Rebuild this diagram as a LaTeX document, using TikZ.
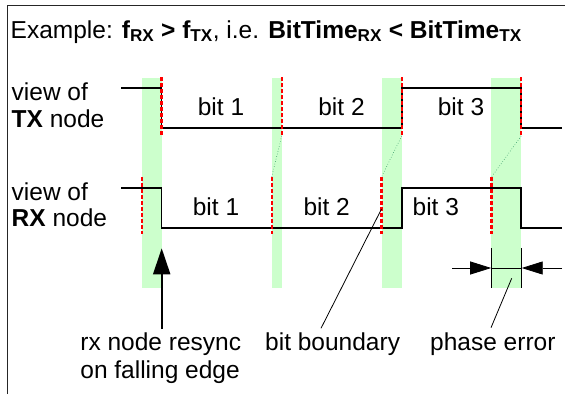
\documentclass[tikz,border=0pt]{standalone}
\usepackage{fontspec}
\setmainfont{Liberation Sans}
\usetikzlibrary{arrows.meta}
\definecolor{bandgreen}{HTML}{CCFFCC}
\definecolor{linkgreen}{HTML}{339966}
\begin{document}
\begin{tikzpicture}[x=1pt,y=-1pt,
  lbl/.style={inner sep=0pt, font=\fontsize{24.5}{27}\selectfont},
  wave/.style={line width=1.8pt, line join=miter},
  syncmark/.style={red, line width=2.4pt, dash pattern=on 3.5pt off 2.5pt},
  band/.style={fill=bandgreen, draw=none},
  link/.style={linkgreen, line width=0.6pt, dotted},
  pointer/.style={line width=0.8pt},
  bigarrow/.style={line width=2pt, -{Triangle[length=26pt,width=17pt]}},
  smallarrow/.style={line width=0.8pt, -{Triangle[length=21pt,width=13pt]}},
  frameline/.style={line width=1.3pt, black!85}]
\useasboundingbox (0,0) rectangle (565,394);

% frame
\draw[frameline] (7.2,394) -- (7.2,5.4) -- (565,5.4);

% green tolerance bands
\fill[band] (141.7,78) rectangle (161.5,288);
\fill[band] (271.7,78) rectangle (281.7,288);
\fill[band] (381.5,78) rectangle (401.7,288);
\fill[band] (491.2,78) rectangle (521.2,288);

% coordinates of sync marks
\coordinate (t1a) at (161.5,77);  \coordinate (t1b) at (161.5,136);
\coordinate (t2a) at (281.7,77);  \coordinate (t2b) at (281.7,136);
\coordinate (t3a) at (401.7,77);  \coordinate (t3b) at (401.7,136);
\coordinate (t4a) at (521.2,77);  \coordinate (t4b) at (521.2,136);
\coordinate (r1a) at (141.7,177); \coordinate (r1b) at (141.7,234);
\coordinate (r2a) at (271.7,177); \coordinate (r2b) at (271.7,234);
\coordinate (r3a) at (381.5,177); \coordinate (r3b) at (381.5,234);
\coordinate (r4a) at (491.5,177); \coordinate (r4b) at (491.5,234);

% links TX -> RX
\draw[link] (t2b) -- (r2a);
\draw[link] (t3b) -- (r3a);
\draw[link] (t4b) -- (r4a);

% waveforms
\draw[wave] (121,88.3) -- (161.5,88.3) -- (161.5,128.3) -- (401.7,128.3)
  -- (401.7,88.3) -- (521.2,88.3) -- (521.2,128.3) -- (561.7,128.3);
\draw[wave] (121,187.7) -- (161.5,187.7) -- (161.5,227.7) -- (401.7,227.7)
  -- (401.7,187.7) -- (521.2,187.7) -- (521.2,227.7) -- (561.7,227.7);

% sync marks
\foreach \m in {t1,t2,t3,t4,r1,r2,r3,r4}
  \draw[syncmark] (\m a) -- (\m b);

% texts
\node[lbl, anchor=base west] (title) at (10.5,38)
  {Example: \textbf{f\textsubscript{RX} > f\textsubscript{TX}}, i.e. \textbf{BitTime\textsubscript{RX} < BitTime\textsubscript{TX}}};
\node[lbl, anchor=base west] (tx1) at (11.5,100.7) {view of};
\node[lbl, anchor=base west] (tx2) at (11.5,127.4) {\textbf{TX} node};
\node[lbl, anchor=base west] (rx1) at (11.5,200) {view of};
\node[lbl, anchor=base west] (rx2) at (11.5,226.7) {\textbf{RX} node};

\node[lbl, anchor=base] (tb1) at (221,115) {bit 1};
\node[lbl, anchor=base] (tb2) at (341.5,115) {bit 2};
\node[lbl, anchor=base] (tb3) at (461,115) {bit 3};
\node[lbl, anchor=base] (rb1) at (216,215) {bit 1};
\node[lbl, anchor=base] (rb2) at (326.7,215) {bit 2};
\node[lbl, anchor=base] (rb3) at (435.8,215) {bit 3};

\node[lbl, anchor=base west] (res1) at (80.2,350.7) {rx node resync};
\node[lbl, anchor=base west] (res2) at (80.2,378.4) {on falling edge};
\node[lbl, anchor=base west] (bb) at (265,350.7) {bit boundary};
\node[lbl, anchor=base west] (pe) at (430,350.7) {phase error};

% resync arrow
\coordinate (resfoot) at (161.7,329);
\coordinate (restip) at (161.7,248.3);
\draw[bigarrow] (resfoot) -- (restip);

% bit boundary pointer
\coordinate (bbfoot) at (321,328.3);
\coordinate (bbtip) at (381.5,209);
\draw[pointer] (bbfoot) -- (bbtip);

% phase error dimension
\coordinate (peL) at (491.2,268);
\coordinate (peR) at (521.7,268);
\coordinate (peLout) at (452,268);
\coordinate (peRout) at (562,268);
\draw[pointer] (491.2,248.3) -- (491.2,288.3);
\draw[pointer] (521.7,248.3) -- (521.7,288.3);
\draw[pointer] (peL) -- (peR);
\draw[smallarrow] (peLout) -- (peL);
\draw[smallarrow] (peRout) -- (peR);
\coordinate (pefoot) at (491,327.7);
\coordinate (petip) at (511.7,278.3);
\draw[pointer] (pefoot) -- (petip);
\end{tikzpicture}
\end{document}
